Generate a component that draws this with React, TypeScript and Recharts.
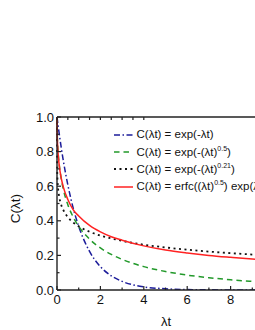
import React from 'react';
import { LineChart, Line, XAxis, YAxis } from 'recharts';

const xValues = [0, 0.01, 0.02, 0.05, 0.1, 0.2, 0.3, 0.5, 0.75, 1, 1.5, 2, 2.5, 3, 4, 5, 6, 7, 8, 9, 10];
const expSeries = [1, 0.99, 0.98, 0.951, 0.905, 0.819, 0.741, 0.607, 0.472, 0.368, 0.223, 0.135, 0.082, 0.05, 0.018, 0.007, 0.0025, 0.0009, 0.0003, 0.0001, 0.00005];
const sqrtSeries = [1, 0.905, 0.868, 0.8, 0.729, 0.639, 0.578, 0.493, 0.421, 0.368, 0.294, 0.243, 0.206, 0.177, 0.135, 0.107, 0.086, 0.071, 0.059, 0.05, 0.042];
const stretchSeries = [1, 0.684, 0.644, 0.587, 0.54, 0.49, 0.46, 0.421, 0.39, 0.368, 0.337, 0.314, 0.298, 0.284, 0.262, 0.246, 0.233, 0.222, 0.213, 0.205, 0.198];
const erfcSeries = [1, 0.895, 0.858, 0.79, 0.723, 0.644, 0.592, 0.523, 0.463, 0.428, 0.373, 0.336, 0.308, 0.288, 0.255, 0.231, 0.214, 0.2, 0.189, 0.179, 0.171];

const yTicks = [0, 0.1, 0.2, 0.3, 0.4, 0.5, 0.6, 0.7, 0.8, 0.9, 1.0];
const xTicks = [0, 1, 2, 3, 4, 5, 6, 7, 8, 9, 10];
const xTickLabels = ['0', '', '2', '', '4', '', '6', '', '8', '', ''];
const topTicks = [0, 1, 2, 3, 4, 5, 6, 7, 8];

const seriesKeys = ['e1', 'e2', 'e3', 'e4'];
const seriesColors = ['#1c1c9a', '#22992a', '#111111', '#ff2222'];
const seriesDash = ['6 2.5 1.5 2.5', '5.5 4', '2 3.5', ''];
const seriesWidths = [1.5, 1.5, 1.8, 1.5];

const labelPre = ['C(λt) = exp(-λt)', 'C(λt) = exp(-(λt)', 'C(λt) = exp(-(λt)', 'C(λt) = erfc((λt)'];
const labelSup = ['', '0.5', '0.21', '0.5'];
const labelPost = ['', ')', ')', ') exp(λt)'];

const data = xValues.map((x, i) => ({
  x,
  e1: expSeries[i],
  e2: sqrtSeries[i],
  e3: stretchSeries[i],
  e4: erfcSeries[i],
}));

const FONT = '"Liberation Sans", Arial, sans-serif';
const AX = '#222';

const YTick = (props: any) => {
  const { x, y, payload } = props;
  const major = Math.round(payload.value * 10) % 2 === 0;
  return (
    <g>
      <line x1={x} x2={x + (major ? 4 : 2.5)} y1={y} y2={y} stroke={AX} strokeWidth={1.2} />
      {major && (
        <text x={x - 3} y={y + 4.6} textAnchor="end" fontSize={13} fontFamily={FONT} fill="#111">
          {payload.value.toFixed(1)}
        </text>
      )}
    </g>
  );
};

const XTick = (props: any) => {
  const { x, y, payload, index } = props;
  const major = payload.value % 2 === 0;
  const label = xTickLabels[index];
  return (
    <g>
      <line x1={x} x2={x} y1={y} y2={y - (major ? 4 : 2.5)} stroke={AX} strokeWidth={1.2} />
      {label && (
        <text x={x} y={y + 13.5} textAnchor="middle" fontSize={13} fontFamily={FONT} fill="#111">
          {label}
        </text>
      )}
    </g>
  );
};

const TopTick = (props: any) => {
  const { x, y } = props;
  return <line x1={x} x2={x} y1={y} y2={y + 3} stroke={AX} strokeWidth={1.2} />;
};

export default function App() {
  return (
    <div style={{ position: 'absolute', left: 0, top: 0, width: 255, height: 330, overflow: 'hidden', background: '#fff' }}>
      <div style={{ position: 'absolute', left: 0, top: 0 }}>
        <LineChart width={300} height={330} data={data} margin={{ top: 115, right: 26, bottom: 10, left: 12 }}>
          <XAxis
            xAxisId="b"
            dataKey="x"
            type="number"
            domain={[0, 10]}
            ticks={xTicks}
            interval={0}
            height={30}
            tickSize={0}
            tickMargin={0}
            tickLine={false}
            tick={<XTick />}
            axisLine={{ stroke: AX, strokeWidth: 1.4 }}
          />
          <XAxis
            xAxisId="t"
            orientation="top"
            type="number"
            domain={[0, 8]}
            ticks={topTicks}
            interval={0}
            height={2}
            tickSize={0}
            tickMargin={0}
            tickLine={false}
            tick={<TopTick />}
            axisLine={{ stroke: AX, strokeWidth: 1.4 }}
          />
          <YAxis
            type="number"
            domain={[0, 1]}
            ticks={yTicks}
            interval={0}
            width={45}
            tickSize={0}
            tickMargin={0}
            tickLine={false}
            tick={<YTick />}
            axisLine={{ stroke: AX, strokeWidth: 1.4 }}
            allowDataOverflow
          />
          {seriesKeys.map((k, i) => (
            <Line
              key={k}
              xAxisId="b"
              dataKey={k}
              type="monotone"
              dot={false}
              stroke={seriesColors[i]}
              strokeWidth={seriesWidths[i]}
              strokeDasharray={seriesDash[i] || undefined}
              isAnimationActive={false}
            />
          ))}
        </LineChart>
      </div>
      <svg width={255} height={330} style={{ position: 'absolute', left: 0, top: 0, pointerEvents: 'none' }}>
        <text transform="translate(19.5,208.5) rotate(-90)" textAnchor="middle" fontSize={13.5} fontFamily={FONT} fill="#111">
          C(λt)
        </text>
        <text x={166} y={326} textAnchor="middle" fontSize={13} fontFamily={FONT} fill="#111">
          λt
        </text>
      </svg>
      <div style={{ position: 'absolute', left: 113, top: 126.5, fontFamily: FONT, fontSize: 11.5, color: '#111', whiteSpace: 'nowrap' }}>
        {labelPre.map((pre, i) => (
          <div key={i} style={{ height: 17.2, display: 'flex', alignItems: 'center' }}>
            <svg width={21} height={10} style={{ flex: 'none' }}>
              <line x1={1} x2={20} y1={5} y2={5} stroke={seriesColors[i]} strokeWidth={seriesWidths[i]} strokeDasharray={seriesDash[i] || undefined} />
            </svg>
            <span style={{ marginLeft: 2.5, lineHeight: 1 }}>
              {pre}
              {labelSup[i] && <sup style={{ fontSize: 7, verticalAlign: 'baseline', position: 'relative', top: -5 }}>{labelSup[i]}</sup>}
              {labelPost[i]}
            </span>
          </div>
        ))}
      </div>
    </div>
  );
}
